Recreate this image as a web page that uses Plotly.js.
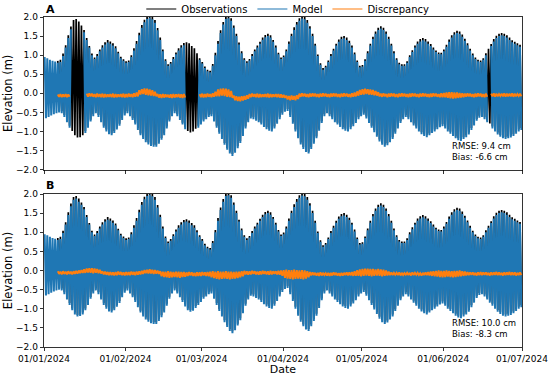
<!DOCTYPE html>
<html>
<head>
<meta charset="utf-8">
<script src="https://cdn.plot.ly/plotly-3.0.1.min.js"></script>
<style>html,body{margin:0;padding:0;background:#fff;}#chart{width:550px;height:376px;}</style>
</head>
<body>
<div id="chart"></div>
<script>
// Daily high-water / low-water elevations in cm (day 0 = 01/01/2024)
const modelHigh = [95,92,88,85,83,80,82,98,120,145,
168,185,188,180,172,160,140,120,100,90,
98,110,120,128,133,130,125,118,105,92,
85,80,82,95,112,130,152,172,186,195,
198,194,185,165,140,110,85,72,78,90,
102,112,120,126,128,125,118,112,100,88,
78,66,58,55,72,100,130,158,180,195,
197,190,172,150,128,105,88,80,86,98,
110,120,130,140,147,150,146,135,120,102,
90,95,110,130,150,166,180,190,196,194,
185,170,150,125,98,75,62,68,82,98,
112,125,135,142,144,140,132,120,102,82,
68,70,85,105,125,142,156,166,170,166,
156,142,125,105,88,76,72,72,80,95,
108,120,130,136,139,136,130,124,115,108,
103,102,110,122,135,146,154,158,156,148,
138,126,112,100,90,84,82,88,100,112,
124,136,145,150,152,150,146,140,134,130,
126,122];
const modelLow = [-65,-62,-58,-55,-52,-50,-52,-62,-76,-90,
-104,-115,-120,-119,-115,-104,-90,-74,-60,-52,
-62,-76,-90,-100,-107,-110,-104,-95,-85,-70,
-58,-52,-60,-70,-82,-96,-110,-120,-128,-134,
-138,-140,-140,-132,-122,-110,-92,-74,-60,-52,
-60,-70,-82,-94,-104,-108,-105,-98,-90,-82,
-74,-68,-62,-60,-74,-90,-106,-120,-135,-148,
-158,-164,-156,-144,-130,-112,-92,-76,-66,-68,
-72,-76,-82,-88,-94,-98,-100,-92,-80,-68,
-56,-48,-46,-62,-80,-100,-118,-134,-146,-154,
-158,-146,-132,-118,-98,-78,-60,-52,-60,-68,
-76,-82,-88,-94,-98,-100,-94,-86,-78,-68,
-60,-56,-66,-78,-90,-102,-114,-126,-135,-140,
-136,-128,-120,-106,-92,-78,-68,-62,-68,-76,
-84,-92,-100,-107,-112,-115,-110,-104,-100,-94,
-89,-86,-92,-100,-106,-112,-118,-123,-125,-120,
-115,-108,-96,-84,-72,-64,-62,-68,-76,-84,
-92,-100,-108,-114,-118,-120,-118,-116,-112,-106,
-100,-96];
const obsHigh = [null,null,null,null,null,85,88,104,126,152,
175,192,195,188,178,166,145,124,104,94,
103,115,126,134,140,136,131,123,109,96,
89,84,86,100,118,137,159,179,193,201,
204,201,192,171,146,115,89,76,82,95,
107,118,126,132,134,131,124,118,105,92,
82,70,62,59,77,106,137,165,187,202,
204,197,178,156,133,110,92,84,90,103,
115,125,135,146,153,156,152,140,125,106,
94,99,115,136,156,173,187,197,203,201,
192,176,156,130,102,79,66,72,86,103,
117,130,141,148,150,146,138,125,107,86,
72,74,89,110,130,148,162,172,176,172,
162,148,130,110,92,80,76,76,84,100,
113,125,136,142,145,142,136,129,120,112,
107,106,115,127,141,152,160,164,162,154,
143,131,117,104,94,88,86,92,105,117,
129,142,151,156,158,156,152,146,139,135,
131,127];
const obsLow = [null,null,null,null,null,-45,-47,-57,-71,-85,
-99,-110,-116,-115,-110,-99,-85,-69,-55,-47,
-57,-71,-85,-95,-102,-105,-99,-90,-80,-65,
-53,-47,-55,-65,-77,-91,-105,-115,-123,-129,
-133,-135,-135,-127,-117,-105,-87,-69,-55,-47,
-55,-65,-77,-89,-99,-103,-100,-93,-85,-77,
-69,-63,-57,-55,-69,-85,-101,-115,-130,-143,
-153,-159,-151,-139,-125,-107,-87,-71,-61,-63,
-67,-71,-77,-83,-89,-93,-95,-87,-75,-63,
-51,-43,-41,-57,-75,-95,-113,-129,-141,-149,
-153,-141,-127,-113,-93,-73,-55,-47,-55,-63,
-71,-77,-83,-89,-93,-95,-89,-81,-73,-63,
-55,-51,-61,-73,-85,-97,-109,-121,-130,-135,
-131,-123,-115,-101,-87,-73,-63,-57,-63,-71,
-79,-87,-95,-102,-107,-110,-105,-99,-95,-89,
-84,-81,-87,-95,-101,-107,-113,-118,-120,-115,
-110,-103,-91,-79,-67,-59,-57,-63,-71,-79,
-87,-95,-103,-109,-113,-115,-113,-111,-107,-101,
-95,-91];
// Panel A model missing (day ranges)
const gapsA = [[10.5,15.2],[53.8,56.4],[57.0,58.3],[169.0,170.2]];
// Discrepancy (cm), at high and low water
const discAHigh = [null,null,null,null,null, -3,-2,-3,-2,-3, null,null,null,null,null,null,
-1,0,-1,-2,-1,-2,-1,-2,-3,-2,-1,-2,-3,-2,-1,-2,-1,-2,0,2,
8,11,13,12,10,8,4,
-2,-3,-2,-3,-4,-3,-2,-3,-2,-3,-2,
null,null,null,null,null,
-2,-1,-2,-1,-2,0,4,
10,12,13,12,10,6,
-6,-8,-9,-8,-7,-5,
-2,-1,-2,-1,-2,-3,-2,-1,-2,-3,-2,-2,-3,-4,
-6,-7,-6,-7,-5,
-1,0,-1,-2,-1,0,-1,-2,-1,0,-1,-2,-1,0,-1,-2,-1,0,-1,-2,0,2,5,
9,11,12,11,10,9,6,3,
-1,0,-2,-1,0,-1,-2,-1,0,-1,-2,-1,0,-1,-2,-1,0,-1,-2,-1,0,-1,-2,0,
1,2,3,3,2,2,1,0,
-1,0,-1,-2,-1,0,-1,-2,-1,
null,
-1,0,-1,-2,-1,0,-1,-1,0,-1,-2,-1];
const discALow = [null,null,null,null,null, -9,-10,-9,-10,-9, null,null,null,null,null,null,
-9,-8,-9,-10,-9,-10,-11,-10,-9,-10,-11,-10,-9,-10,-11,-10,-9,-10,-9,-8,
-3,-2,-4,-5,-6,-7,-8,
-11,-12,-11,-10,-11,-12,-11,-10,-11,-12,-11,
null,null,null,null,null,
-10,-11,-10,-9,-10,-9,-8,
-8,-6,-7,-9,-10,-12,
-18,-20,-21,-19,-17,-14,
-10,-9,-10,-11,-10,-9,-10,-11,-10,-9,-10,-11,-11,-12,
-16,-18,-17,-18,-15,
-9,-8,-9,-10,-9,-8,-9,-10,-9,-8,-9,-10,-9,-8,-9,-10,-9,-8,-9,-10,-9,-8,-6,
-4,-3,-2,-3,-4,-5,-6,-8,
-9,-8,-10,-9,-8,-9,-10,-9,-8,-9,-10,-9,-8,-9,-10,-9,-8,-9,-10,-9,-8,-9,-10,-10,
-10,-12,-13,-14,-13,-12,-11,-10,
-9,-8,-9,-10,-9,-8,-9,-10,-9,
null,
-8,-9,-8,-7,-8,-9,-8,-8,-9,-8,-7,-8];
const discBHigh = [null,null,null,null,null,
-2,-3,-2,-3,-2,-3,-2,-1,0,1,
3,5,6,6,5,4,2,
-2,-3,-4,-4,-5,-4,-3,-4,-5,-4,-4,-3,-4,-3,-2,-1,
1,2,3,2,1,0,
-2,-3,-3,-2,-3,-4,-3,-3,-4,-4,
-5,-4,-5,-6,-5,-5,-4,-5,-4,
-3,-2,-3,-2,-3,-3,-2,-3,-3,-4,-3,-3,-2,
-1,-2,-2,-1,-2,-3,-2,-1,-2,-2,-1,-2,-2,-1,0,
1,2,1,1,2,1,0,1,0,-2,
-4,-5,-6,-6,-5,-6,-7,-6,-6,-5,-6,-7,-6,-6,-5,-5,-4,-2,
1,3,4,5,5,4,4,3,4,3,2,0,
-3,-5,-6,-6,-5,-6,-7,-6,-6,-5,-6,-6,-7,-6,-5,-4,-3,
-2,-1,0,-1,-1,0,-1,-2,-1,-1,0,-2,-3,
-4,-5,-5,-6,-5,-4,-5,-5,-6,-5,-5,-4,-5,-6,-5,-5,-4,-5,-5,-6,-5];
const discBLow = [null,null,null,null,null,
-9,-10,-9,-10,-9,-10,-9,-8,-7,-6,
-6,-5,-6,-7,-6,-7,-8,
-10,-11,-12,-12,-13,-12,-11,-12,-13,-12,-12,-11,-12,-11,-10,-9,
-7,-8,-8,-9,-8,-9,
-15,-17,-18,-19,-18,-17,-18,-19,-17,-16,
-14,-13,-14,-15,-14,-14,-13,-14,-15,
-18,-20,-22,-23,-22,-21,-22,-23,-22,-21,-20,-18,-15,
-10,-11,-10,-9,-10,-11,-10,-9,-10,-11,-10,-9,-10,-11,-14,
-19,-21,-22,-23,-22,-21,-22,-23,-21,-18,
-13,-12,-13,-14,-13,-12,-13,-14,-13,-12,-13,-14,-13,-12,-13,-13,-14,-14,
-14,-15,-14,-13,-14,-15,-14,-13,-14,-15,-14,-13,
-12,-12,-11,-12,-13,-12,-11,-12,-13,-12,-11,-12,-13,-12,-12,-13,-14,
-15,-16,-17,-18,-17,-16,-17,-18,-17,-16,-15,-14,-13,
-12,-11,-12,-13,-12,-12,-11,-12,-13,-12,-11,-12,-12,-13,-12,-11,-12,-12,-13,-12,-12];
const statsA = ['RMSE: 9.4 cm', 'Bias: -6.6 cm'];
const statsB = ['RMSE: 10.0 cm', 'Bias: -8.3 cm'];
const seriesNames = ['Observations', 'Model', 'Discrepancy'];
const monthTicks = ['2024-01-01','2024-02-01','2024-03-01','2024-04-01','2024-05-01','2024-06-01','2024-07-01'];

const DAY = 86400000, T0 = Date.UTC(2024,0,1);
function inGap(t, gaps){ return gaps.some(g => t >= g[0] && t <= g[1]); }
function zig(hi, lo, gaps){
  const x=[], y=[];
  for(let i=0;i<hi.length;i++){
    const th=i+0.25, tl=i+0.75;
    x.push(T0+th*DAY); y.push(hi[i]==null||inGap(th,gaps)?null:hi[i]/100);
    x.push(T0+tl*DAY); y.push(lo[i]==null||inGap(tl,gaps)?null:lo[i]/100);
  }
  return {x,y};
}
const obs = zig(obsHigh, obsLow, []);
const modA = zig(modelHigh, modelLow, gapsA);
const modB = zig(modelHigh, modelLow, []);
const dA = zig(discAHigh, discALow, []);
const dB = zig(discBHigh, discBLow, []);

const COLORS = ['#000000', '#1f77b4', '#ff7f0e'];
const WIDTHS = [1.7, 2, 1.9];
function tr(d, k, xa, ya){
  return {type:'scatter', mode:'lines', x:d.x, y:d.y, name:seriesNames[k], xaxis:xa, yaxis:ya,
    line:{color:COLORS[k], width:WIDTHS[k], simplify:false}, showlegend:false, hoverinfo:'skip'};
}
// legend-only entries (thin line samples like the reference)
const legendEntries = seriesNames.map((n,k) => ({type:'scatter', mode:'lines', x:[null], y:[null], name:n,
  line:{color:COLORS[k], width:1.2}, showlegend:true, xaxis:'x', yaxis:'y', hoverinfo:'skip'}));
const data = [
  tr(obs, 0, 'x', 'y'), tr(modA, 1, 'x', 'y'), tr(dA, 2, 'x', 'y'),
  tr(obs, 0, 'x2', 'y2'), tr(modB, 1, 'x2', 'y2'), tr(dB, 2, 'x2', 'y2')
].concat(legendEntries);
const FONT = 'DejaVu Sans, sans-serif';
const xBase = {type:'date', range:['2024-01-01','2024-07-01'], tickvals:monthTicks, tickformat:'%d/%m/%Y',
  showline:true, mirror:true, linecolor:'#000', linewidth:0.8, ticks:'outside', ticklen:3.5, tickwidth:0.8, tickcolor:'#000',
  showgrid:false, zeroline:false, tickfont:{family:FONT,size:9,color:'#000'}};
const yBase = {range:[-2,2], dtick:0.5, tick0:0, tickformat:'.1f',
  showline:true, mirror:true, linecolor:'#000', linewidth:0.8, ticks:'outside', ticklen:3.5, tickwidth:0.8, tickcolor:'#000',
  showgrid:false, zeroline:false, tickfont:{family:FONT,size:9,color:'#000'},
  title:{text:'Elevation (m)', font:{family:FONT,size:11.5,color:'#000'}, standoff:0}};
const layout = {
  width:550, height:376, margin:{l:44, r:28, t:17, b:29, autoexpand:false},
  paper_bgcolor:'#fff', plot_bgcolor:'#fff', font:{family:FONT, color:'#000'},
  xaxis: Object.assign({}, xBase, {anchor:'y', showticklabels:false}),
  yaxis: Object.assign({}, yBase, {domain:[0.5375,1], anchor:'x'}),
  xaxis2: Object.assign({}, xBase, {anchor:'y2', matches:'x', title:{text:'Date', font:{family:FONT,size:11,color:'#000'}, standoff:2}}),
  yaxis2: Object.assign({}, yBase, {domain:[0,0.4636], anchor:'x2'}),
  showlegend:true,
  legend:{orientation:'h', x:0.51, xanchor:'center', yref:'container', y:0.976, yanchor:'middle', bgcolor:'rgba(0,0,0,0)',
    font:{family:FONT,size:10,color:'#000'}, traceorder:'normal'},
  annotations:[
    {text:'<b>A</b>', xref:'paper', yref:'paper', x:0, y:1.024, xanchor:'left', yanchor:'middle', showarrow:false, font:{family:FONT,size:11,color:'#000'}},
    {text:'<b>B</b>', xref:'paper', yref:'paper', x:0, y:0.488, xanchor:'left', yanchor:'middle', showarrow:false, font:{family:FONT,size:11,color:'#000'}},
    {text:statsA.join('<br>'), xref:'paper', yref:'paper', x:0.85, y:0.556, xanchor:'left', yanchor:'bottom', align:'left', showarrow:false, font:{family:FONT,size:8.5,color:'#000'}},
    {text:statsB.join('<br>'), xref:'paper', yref:'paper', x:0.85, y:0.018, xanchor:'left', yanchor:'bottom', align:'left', showarrow:false, font:{family:FONT,size:8.5,color:'#000'}}
  ]
};
Plotly.newPlot('chart', data, layout, {staticPlot:true, displayModeBar:false});
</script>
</body>
</html>
